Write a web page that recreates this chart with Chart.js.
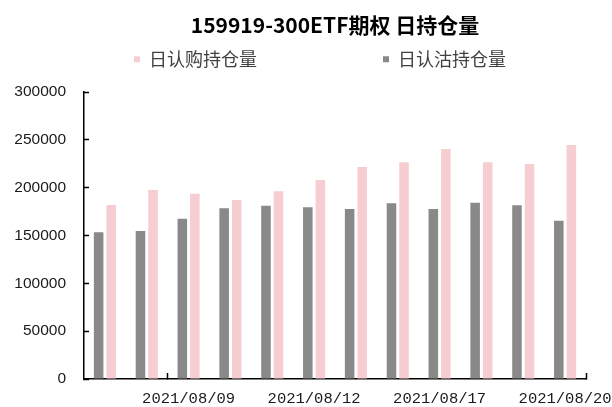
<!DOCTYPE html>
<html>
<head>
<meta charset="utf-8">
<script src="https://cdn.jsdelivr.net/npm/chart.js@4/dist/chart.umd.min.js"></script>
<style>
  body { margin: 0; background: #fff; }
  #wrap { width: 612px; height: 407px; }
</style>
</head>
<body>
<div id="wrap"><canvas id="oiChart"></canvas></div>
<script>
// trading days on the x axis
const dates = ['2021/08/05', '2021/08/06', '2021/08/09', '2021/08/10', '2021/08/11', '2021/08/12',
               '2021/08/13', '2021/08/16', '2021/08/17', '2021/08/18', '2021/08/19', '2021/08/20'];
// daily open interest
const putOI  = [153300, 154700, 167600, 178400, 181200, 179500, 177700, 183600, 177700, 184300, 181500, 165500];
const callOI = [182000, 197500, 193700, 187100, 196200, 208000, 221600, 226500, 240400, 226500, 224700, 244600];
// only every 3rd date gets a label
const shownDates = [2, 5, 8, 11];
const yTicks = [0, 50000, 100000, 150000, 200000, 250000, 300000];

const oiChart = document.getElementById('oiChart');

// empty box under the legend so the plot starts lower (legend padding is the same top and bottom)
const legendGap = {
    id: 'legendGap',
    beforeInit(chart) {
        Chart.layouts.addBox(chart, {
            position: 'top',
            weight: 100, // lower than legend (1000) = sits closer to the plot
            fullSize: true,
            options: {},
            isHorizontal() { return true; },
            update(maxWidth) { this.width = maxWidth; this.height = 13.8; },
            draw() {}
        });
    }
};

new Chart(oiChart, {
    type: 'bar',
    data: {
        labels: dates,
        datasets: [
            {
                label: '日认沽持仓量',
                data: putOI,
                backgroundColor: 'rgb(137,137,137)',
                barPercentage: 0.76,
                categoryPercentage: 0.6
            },
            {
                label: '日认购持仓量',
                data: callOI,
                backgroundColor: 'rgb(246,205,208)',
                barPercentage: 0.76,
                categoryPercentage: 0.6
            }
        ]
    },
    plugins: [legendGap],
    options: {
        responsive: true,
        maintainAspectRatio: false,
        animation: false,
        layout: { padding: 0 },
        plugins: {
            tooltip: { enabled: false },
            title: {
                display: true,
                text: '159919-300ETF期权 日持仓量',
                fullSize: false, // centre over the plot, like the original
                color: '#000',
                font: { family: '"Noto Sans CJK SC"', size: 21, weight: 'bold' },
                padding: { top: 12, bottom: -11 } // legend box overlaps a bit, it has big padding
            },
            legend: {
                position: 'top',
                fullSize: false,
                labels: {
                    color: '#404040',
                    font: { family: '"Noto Sans CJK SC"', size: 18 },
                    boxWidth: 6,
                    boxHeight: 6,
                    padding: 24,
                    // call first in the legend even though the put bar is drawn first
                    sort: (a, b) => b.datasetIndex - a.datasetIndex,
                    generateLabels: chart => {
                        const items = Chart.defaults.plugins.legend.labels.generateLabels(chart);
                        // entries sit far apart on the original, pad the text out
                        items.forEach(it => {
                            if (it.datasetIndex === 1) it.text += '\u3000'.repeat(5) + '   ';
                            else it.text += '\u3000   ';
                        });
                        return items;
                    }
                }
            }
        },
        scales: {
            x: {
                offset: true,
                border: { display: true, color: '#000', width: 1.5 },
                grid: {
                    offset: true,
                    drawOnChartArea: false,
                    drawTicks: true,
                    tickLength: -6, // negative = tick points into the plot
                    tickWidth: 1.5,
                    // only a couple of tick marks show on the original
                    tickColor: ctx => (ctx.index === 2 || ctx.index === undefined) ? '#000' : 'rgba(0,0,0,0)',
                    color: 'rgba(0,0,0,0)'
                },
                ticks: {
                    autoSkip: false,
                    maxRotation: 0,
                    minRotation: 0,
                    padding: 17,
                    color: '#1a1a1a',
                    font: { family: '"Liberation Mono"', size: 15.5 },
                    callback: (val, i) => shownDates.includes(i) ? dates[i] : ''
                },
                afterFit: scale => {
                    scale.height = 28;
                    scale.paddingLeft = 0;
                    scale.paddingRight = 26; // last label is allowed to run off the edge
                }
            },
            y: {
                min: 0,
                max: 300000,
                border: { display: true, color: '#000', width: 1.5 },
                grid: {
                    drawOnChartArea: false,
                    drawTicks: true,
                    tickLength: -5,
                    tickWidth: 1.5,
                    tickColor: '#000'
                },
                afterBuildTicks: scale => {
                    scale.ticks = yTicks.map(v => ({ value: v }));
                },
                ticks: {
                    padding: 23,
                    color: '#1a1a1a',
                    font: { family: '"Liberation Sans"', size: 15.5 },
                    callback: v => String(v)
                },
                afterFit: scale => {
                    scale.width = 84;
                    // big tick padding leaks into top/bottom padding, don't want that
                    scale.paddingTop = 0;
                    scale.paddingBottom = 0;
                }
            }
        }
    }
});
</script>
</body>
</html>
